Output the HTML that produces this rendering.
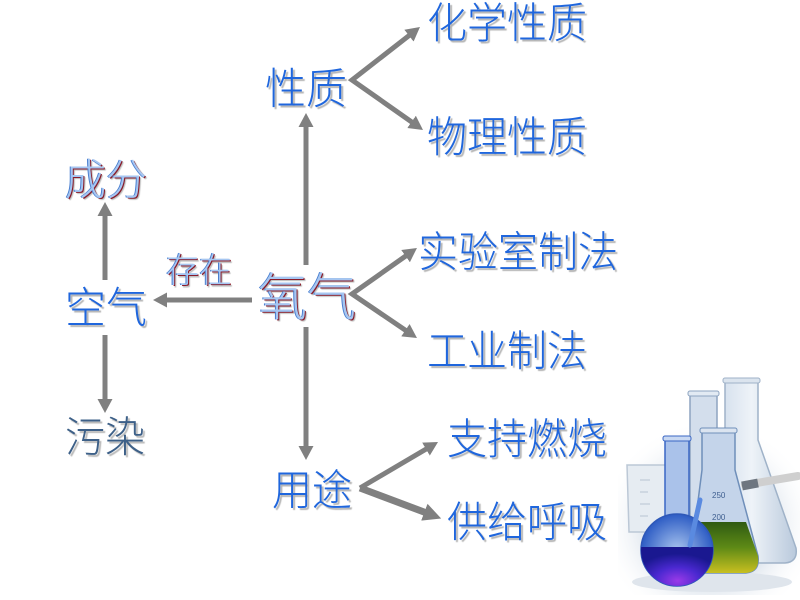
<!DOCTYPE html>
<html><head><meta charset="utf-8">
<style>
html,body{margin:0;padding:0;background:#fff;}
#c{position:relative;width:800px;height:600px;overflow:hidden;background:#fff;font-family:"Liberation Sans","Noto Sans CJK SC",sans-serif;}
.t{position:absolute;white-space:nowrap;line-height:1;color:#1f66dd;text-shadow:2px 2px 1px #b4b4b4;font-weight:300;transform:scaleY(1.06);transform-origin:0 0;}
.r{color:#a6c6f1;text-shadow:-1px 0 0 #4a7fd0,1px 1px 0 #8a1c2a,2px 2px 1px #b8b8b8;}
.s{color:#3d6088;text-shadow:2px 2px 1px #b8b8b8;}
svg{position:absolute;left:0;top:0;}
</style></head><body>
<div id="c">
<svg width="800" height="600" viewBox="0 0 800 600">
<defs>
<marker id="ah" markerUnits="userSpaceOnUse" markerWidth="16" markerHeight="16" refX="4" refY="8" orient="auto-start-reverse" viewBox="0 0 16 16">
<path d="M0,0.5 L14,8 L0,15.5 Z" fill="#808080"/>
</marker>
<marker id="ah2" markerUnits="userSpaceOnUse" markerWidth="20" markerHeight="20" refX="5" refY="10" orient="auto" viewBox="0 0 20 20">
<path d="M0,1 L18,10 L0,19 Z" fill="#808080"/>
</marker>
<radialGradient id="bg" cx="0.5" cy="0.6" r="0.6">
<stop offset="0" stop-color="#cfd9e6"/>
<stop offset="0.6" stop-color="#e3e9f0"/>
<stop offset="1" stop-color="#ffffff" stop-opacity="0"/>
</radialGradient>
<linearGradient id="gl" x1="0" y1="0" x2="1" y2="0">
<stop offset="0" stop-color="#c9d7e8"/>
<stop offset="0.5" stop-color="#eef3f8"/>
<stop offset="1" stop-color="#b9c9dc"/>
</linearGradient>
<linearGradient id="gr" x1="0" y1="0" x2="0" y2="1">
<stop offset="0" stop-color="#2f5a12"/>
<stop offset="0.5" stop-color="#5e8a16"/>
<stop offset="1" stop-color="#c8c020"/>
</linearGradient>
<radialGradient id="pu" cx="0.5" cy="0.75" r="0.6">
<stop offset="0" stop-color="#9a3ae8"/>
<stop offset="0.5" stop-color="#4a28d0"/>
<stop offset="1" stop-color="#1a1890"/>
</radialGradient>
<radialGradient id="bl" cx="0.5" cy="0.5" r="0.5">
<stop offset="0" stop-color="#a8c4ee"/>
<stop offset="1" stop-color="#2d5cc4"/>
</radialGradient>
<clipPath id="bulb"><circle cx="677" cy="550" r="36"/></clipPath>
</defs>

<!-- arrows -->
<g stroke="#808080" stroke-width="5" fill="none">
<line x1="306" y1="265" x2="306" y2="123" marker-end="url(#ah)"/>
<line x1="306" y1="327" x2="306" y2="450" marker-end="url(#ah)"/>
<line x1="252" y1="300" x2="163" y2="300" marker-end="url(#ah)"/>
<line x1="105" y1="280" x2="105" y2="212" marker-end="url(#ah)"/>
<line x1="105" y1="335" x2="105" y2="403" marker-end="url(#ah)"/>
<path d="M412.1,33.2 L352,80 L414.8,124.2" stroke-linejoin="miter" marker-start="url(#ah)" marker-end="url(#ah)"/>
<path d="M408.8,253.8 L352,294 L408.7,332.4" stroke-linejoin="miter" marker-start="url(#ah)" marker-end="url(#ah)"/>
<line x1="360" y1="488" x2="429.4" y2="447.1" marker-end="url(#ah)"/>
<line x1="360" y1="488" x2="429" y2="513.9" stroke-width="7" marker-end="url(#ah2)"/>
</g>

<!-- lab glassware -->
<g>
<rect x="618" y="420" width="182" height="175" fill="url(#bg)"/>
<ellipse cx="712" cy="582" rx="80" ry="10" fill="#dfe5ec"/>
<path d="M627,465 L672,465 L672,532 L629,532 Z" fill="#e6ecf2" stroke="#bcc8d6" stroke-width="1.5"/>
<g stroke="#b8c4d2" stroke-width="1"><line x1="640" y1="480" x2="650" y2="480"/><line x1="640" y1="492" x2="648" y2="492"/><line x1="640" y1="504" x2="650" y2="504"/><line x1="640" y1="516" x2="648" y2="516"/></g>
<path d="M725,380 L758,380 L758,440 L796,548 Q798,562 785,563 L716,563 Q705,561 708,548 L725,440 Z" fill="url(#gl)" stroke="#9fb2c8" stroke-width="1.5"/>
<rect x="723" y="378" width="37" height="5" rx="2" fill="#dbe4ee" stroke="#9fb2c8"/>
<line x1="745" y1="485" x2="798" y2="476" stroke="#cfcfcf" stroke-width="8" stroke-linecap="round"/>
<line x1="742" y1="486" x2="758" y2="483" stroke="#6e7680" stroke-width="9"/>
<path d="M690,393 L717,393 L717,520 L690,520 Z" fill="#d3deec" stroke="#8ea4c0" stroke-width="1.5"/>
<rect x="688" y="391" width="31" height="5" rx="2" fill="#e2eaf3" stroke="#8ea4c0"/>
<path d="M702,430 L735,430 L735,470 L758,556 Q760,572 746,573 L702,573 Q689,571 691,556 L702,470 Z" fill="#c4d4ea" stroke="#6f8fba" stroke-width="1.5"/>
<path d="M697,522 L746,522 L758,556 Q760,572 746,573 L702,573 Q689,571 691,556 Z" fill="url(#gr)"/>
<rect x="700" y="428" width="37" height="5" rx="2" fill="#dbe4f0" stroke="#6f8fba"/>
<text x="712" y="498" font-size="8" fill="#3f5f90" font-family="Liberation Sans,sans-serif">250</text>
<text x="712" y="520" font-size="8" fill="#3f5f90" font-family="Liberation Sans,sans-serif">200</text>
<rect x="665" y="438" width="24" height="85" fill="#aac2ea" stroke="#3a66c4" stroke-width="1.5"/>
<rect x="663" y="436" width="28" height="5" rx="2" fill="#c8d8f2" stroke="#3a66c4"/>
<circle cx="677" cy="550" r="36" fill="url(#bl)" stroke="#2e58b8" stroke-width="1.5"/>
<rect x="640" y="547" width="75" height="45" fill="url(#pu)" clip-path="url(#bulb)"/>
<line x1="700" y1="500" x2="690" y2="545" stroke="#5a8ae0" stroke-width="5" stroke-linecap="round"/>
</g>
</svg>

<div class="t" style="left:427px;top:3px;font-size:40px;">化学性质</div>
<div class="t" style="left:265px;top:68px;font-size:41px;">性质</div>
<div class="t" style="left:427px;top:117px;font-size:40px;">物理性质</div>
<div class="t r" style="left:65px;top:159px;font-size:41px;">成分</div>
<div class="t r" style="left:166px;top:253px;font-size:33px;">存在</div>
<div class="t" style="left:65px;top:287px;font-size:41px;">空气</div>
<div class="t r" style="left:258px;top:273px;font-size:49px;">氧气</div>
<div class="t" style="left:418px;top:232px;font-size:40px;">实验室制法</div>
<div class="t" style="left:427px;top:331px;font-size:40px;">工业制法</div>
<div class="t s" style="left:65px;top:417px;font-size:40px;">污染</div>
<div class="t" style="left:272px;top:470px;font-size:40px;">用途</div>
<div class="t" style="left:447px;top:419px;font-size:40px;">支持燃烧</div>
<div class="t" style="left:447px;top:502px;font-size:40px;">供给呼吸</div>
</div>
</body></html>
